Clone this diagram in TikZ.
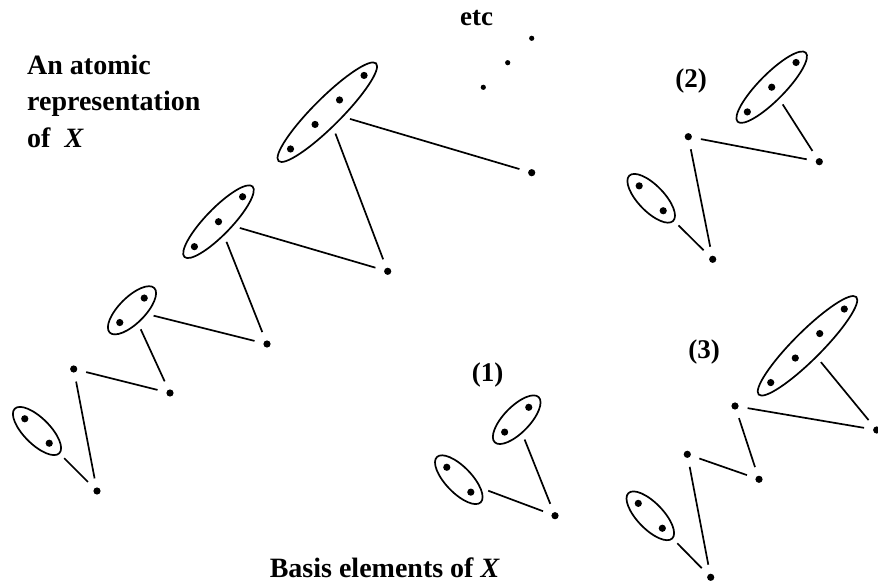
\documentclass[tikz,border=0pt]{standalone}
\usepackage{fontspec}
\setmainfont{Liberation Serif}
\usetikzlibrary{shapes.geometric,calc}
\tikzset{
  dotnode/.style={circle, fill, inner sep=0pt, minimum size=7.2pt, outer sep=9.2pt},
  smalldot/.style={circle, fill, inner sep=0pt, minimum size=5.2pt},
  grp/.style={ellipse, draw, line width=1.7pt, inner sep=0pt, minimum height=26pt, outer sep=7pt},
  link/.style={line width=1.7pt},
  lbl/.style={font=\fontsize{27}{32}\selectfont\bfseries, inner sep=0pt},
  biglbl/.style={font=\fontsize{28}{33}\selectfont\bfseries, inner sep=0pt},
}
\begin{document}
\begin{tikzpicture}[x=1pt,y=1pt]
\useasboundingbox (0,0) rectangle (878,584);

% ---------- left chain: atomic representation ----------
\node[grp, rotate=-45, minimum width=63pt] (A1) at (37,153) {};
\foreach \r [count=\i] in {-17.3,17.3} \node[dotnode] (A1d\i) at ($(A1.center)+(-45:\r)$) {};
\node[dotnode] (B1) at (97,93) {};
\node[dotnode] (C1) at (73.7,215) {};
\node[dotnode] (D1) at (170,191) {};
\node[grp, rotate=45, minimum width=63pt] (A2) at (132,273.7) {};
\foreach \r [count=\i] in {-17.3,17.3} \node[dotnode] (A2d\i) at ($(A2.center)+(45:\r)$) {};
\node[dotnode] (E1) at (267,240) {};
\node[grp, rotate=46, minimum width=98pt] (A3) at (218.5,362.3) {};
\foreach \r [count=\i] in {-34.7,0,34.7} \node[dotnode] (A3d\i) at ($(A3.center)+(46:\r)$) {};
\node[dotnode] (E2) at (387.7,312.7) {};
\node[grp, rotate=45, minimum width=138pt, minimum height=28pt] (A4) at (327.3,471.8) {};
\foreach \r [count=\i] in {-52,-17.3,17.3,52} \node[dotnode] (A4d\i) at ($(A4.center)+(45:\r)$) {};
\node[dotnode] (F2) at (531.7,411.3) {};
\node[smalldot] (etc1) at (483.3,496.7) {};
\node[smalldot] (etc2) at (507.7,521.3) {};
\node[smalldot] (etc3) at (531.7,545.7) {};

\draw[link] (A1) -- (B1);
\draw[link] (C1) -- (B1);
\draw[link] (C1) -- (D1);
\draw[link] (A2) -- (D1);
\draw[link] (A2) -- (E1);
\draw[link] (A3) -- (E1);
\draw[link] (A3) -- (E2);
\draw[link] (A4) -- (E2);
\draw[link] (A4) -- (F2);

% ---------- basis element (1) ----------
\node[grp, rotate=45.8, minimum width=63pt] (U1) at (516.7,164.3) {};
\foreach \r [count=\i] in {-17.3,17.3} \node[dotnode] (U1d\i) at ($(U1.center)+(45.8:\r)$) {};
\node[grp, rotate=-46, minimum width=63pt] (L1) at (458.8,104.3) {};
\foreach \r [count=\i] in {-17.3,17.3} \node[dotnode] (L1d\i) at ($(L1.center)+(-46:\r)$) {};
\node[dotnode] (G1) at (555,68.3) {};
\draw[link] (U1) -- (G1);
\draw[link] (L1) -- (G1);

% ---------- basis element (2) ----------
\node[grp, rotate=45.4, minimum width=97pt] (U2) at (771.7,496.8) {};
\foreach \r [count=\i] in {-34.7,0,34.7} \node[dotnode] (U2d\i) at ($(U2.center)+(45.4:\r)$) {};
\node[dotnode] (P2) at (688.3,447.3) {};
\node[dotnode] (Q2) at (819.3,422.3) {};
\node[grp, rotate=-46, minimum width=63pt] (L2) at (651.2,385.7) {};
\foreach \r [count=\i] in {-17.3,17.3} \node[dotnode] (L2d\i) at ($(L2.center)+(-46:\r)$) {};
\node[dotnode] (R2) at (712.7,324.7) {};
\draw[link] (U2) -- (Q2);
\draw[link] (P2) -- (Q2);
\draw[link] (P2) -- (R2);
\draw[link] (L2) -- (R2);

% ---------- basis element (3) ----------
\node[grp, rotate=45, minimum width=138pt, minimum height=28pt] (U3) at (807.5,238.2) {};
\foreach \r [count=\i] in {-52,-17.3,17.3,52} \node[dotnode] (U3d\i) at ($(U3.center)+(45:\r)$) {};
\node[dotnode] (S3) at (735,178) {};
\node[dotnode] (T3) at (876.7,154) {};
\node[dotnode] (V3u) at (687.3,129.7) {};
\node[dotnode] (V3) at (759,104.7) {};
\node[grp, rotate=-46, minimum width=63pt] (L3) at (650.3,68.2) {};
\foreach \r [count=\i] in {-17.3,17.3} \node[dotnode] (L3d\i) at ($(L3.center)+(-46:\r)$) {};
\node[dotnode] (W3) at (710.7,6.7) {};
\draw[link] (U3) -- (T3);
\draw[link] (S3) -- (T3);
\draw[link] (S3) -- (V3);
\draw[link] (V3u) -- (V3);
\draw[link] (V3u) -- (W3);
\draw[link] (L3) -- (W3);

% ---------- labels ----------
\node[biglbl, anchor=base west] (t1) at (27,509) {An atomic};
\node[biglbl, anchor=base west] (t2) at (27,473) {representation};
\node[biglbl, anchor=base west] (t3) at (27,436.5) {of~~\textit{X}};
\node[lbl] (etc) at (476.7,565.7) {etc};
\node[lbl] (n1) at (487.5,209) {(1)};
\node[lbl] (n2) at (691,503) {(2)};
\node[lbl] (n3) at (704,232.3) {(3)};
\node[biglbl, anchor=base east] (basis) at (500,7) {Basis elements of \textit{X}};
\end{tikzpicture}
\end{document}
